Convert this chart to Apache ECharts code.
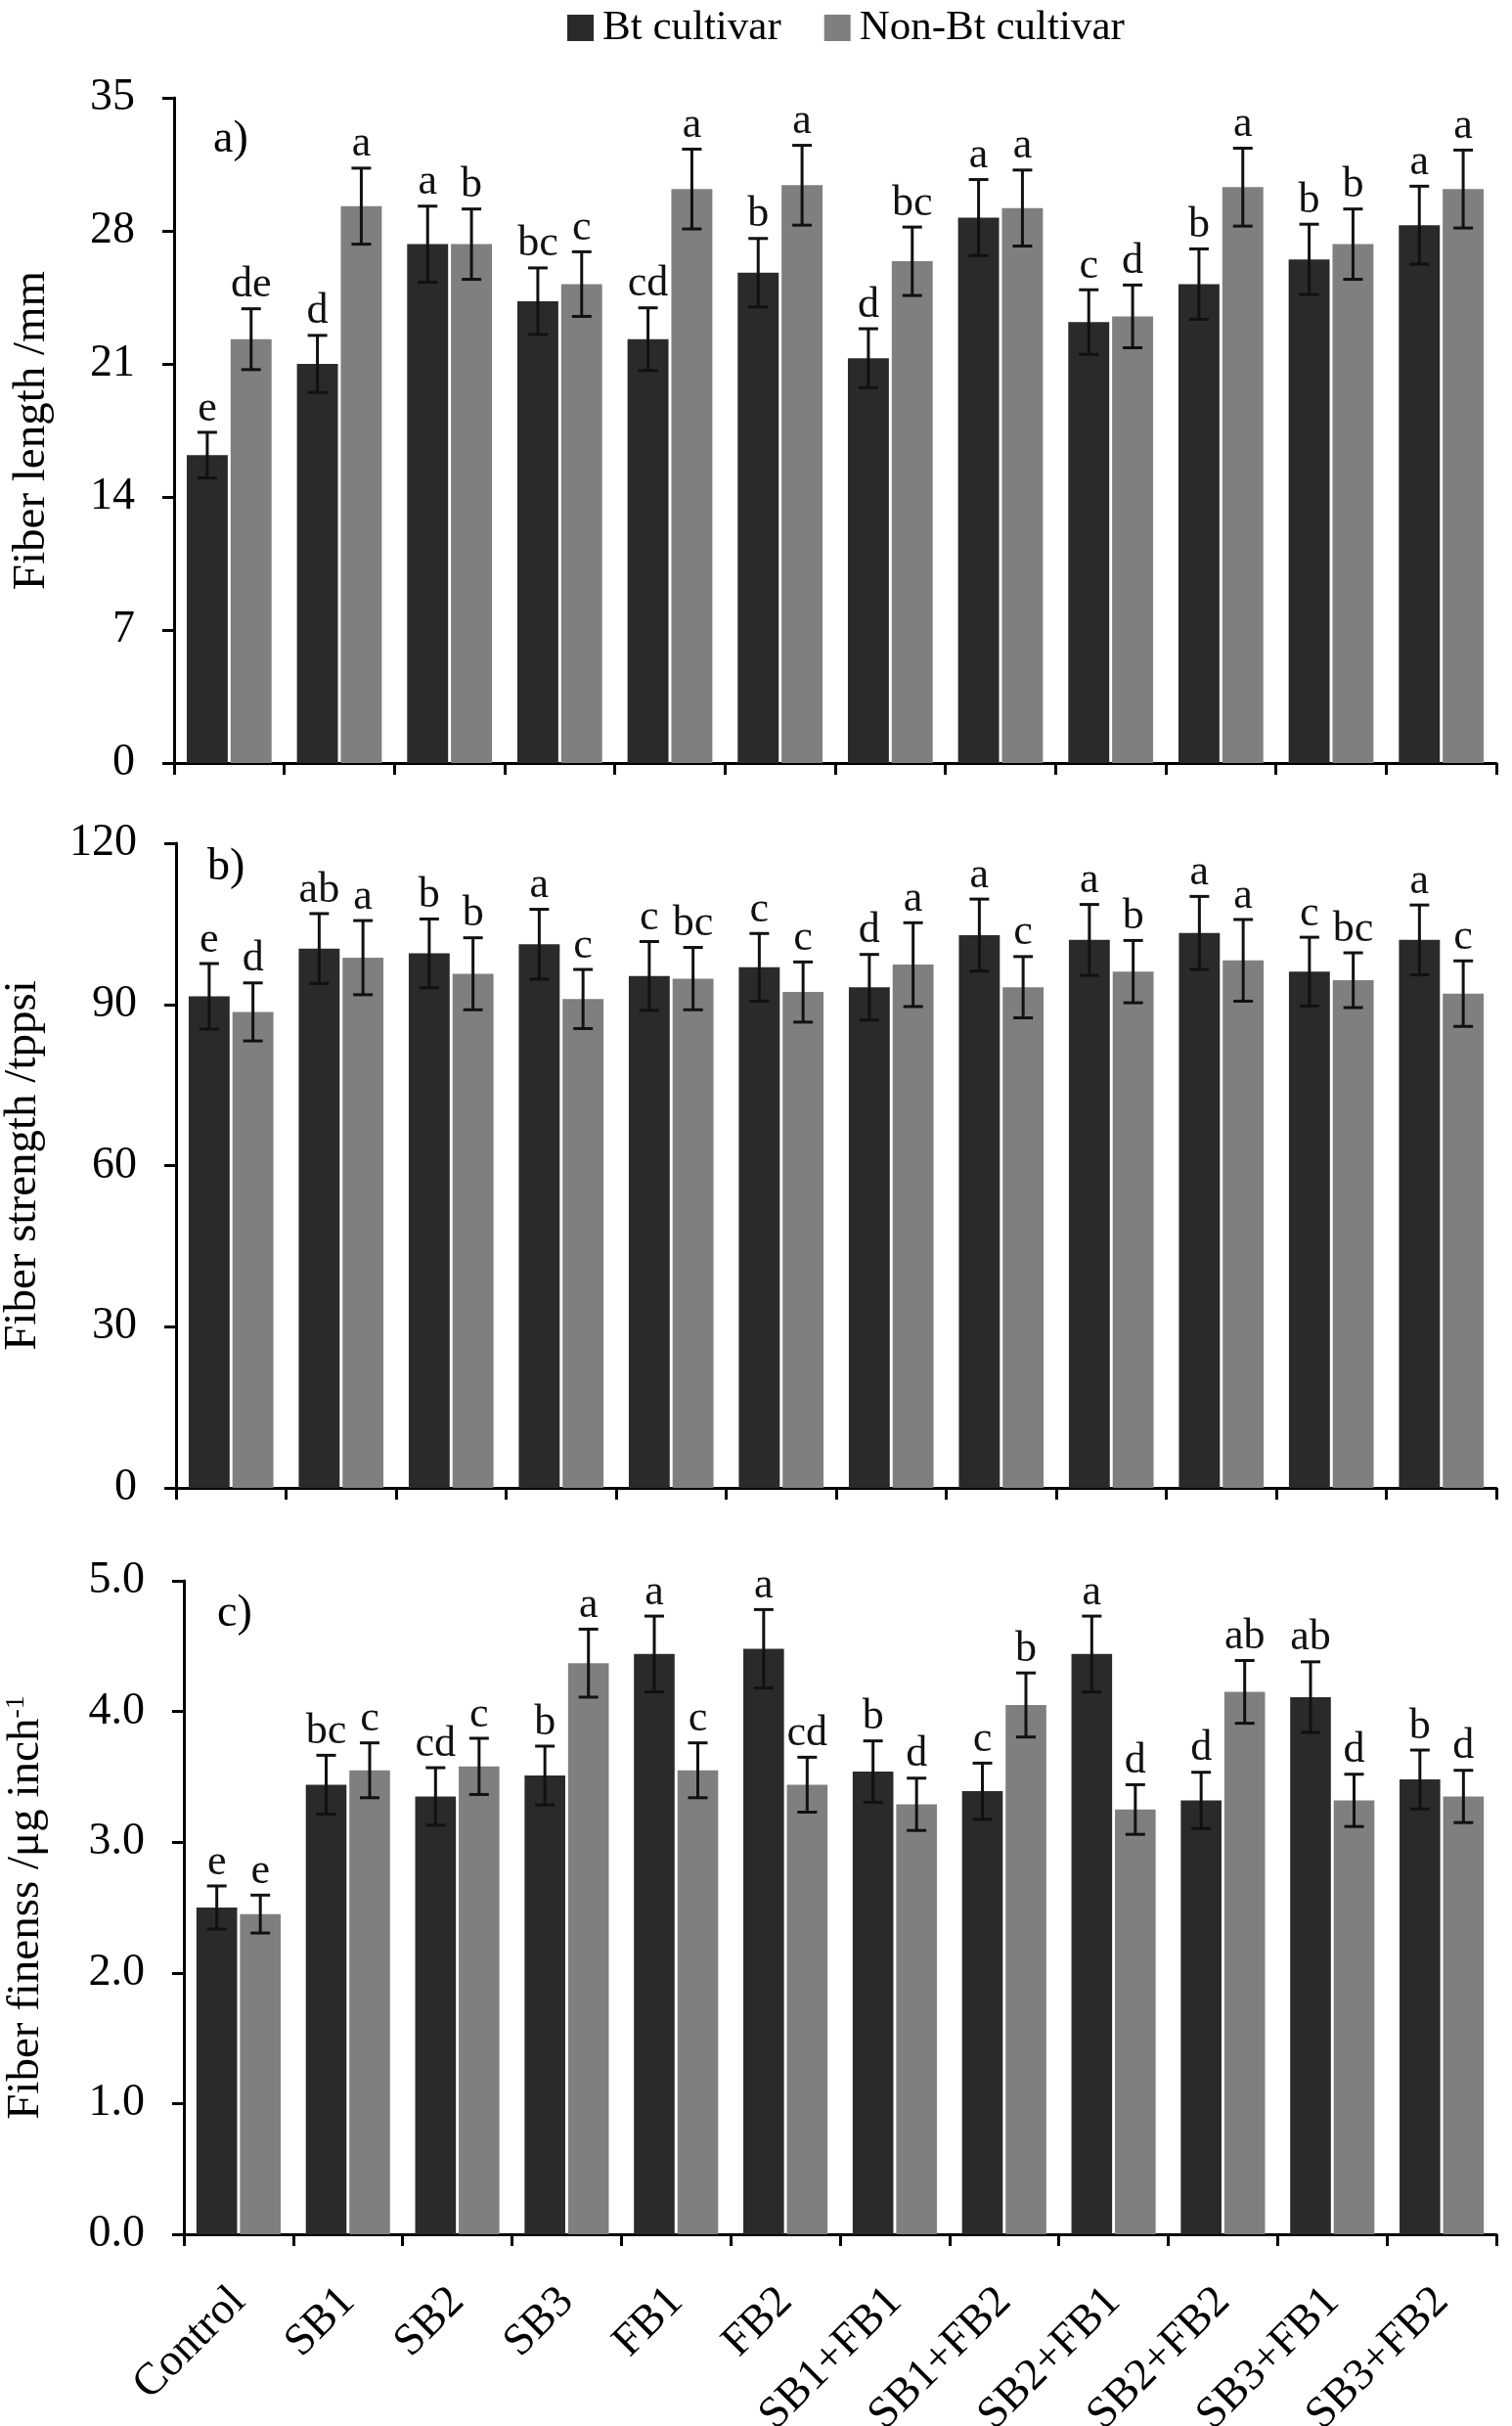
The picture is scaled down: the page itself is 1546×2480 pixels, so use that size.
<!DOCTYPE html>
<html>
<head>
<meta charset="utf-8">
<style>
html,body{margin:0;padding:0;background:#fff;}
#chart{width:1546px;height:2480px;}
</style>
<script src="https://cdn.jsdelivr.net/npm/echarts@6/dist/echarts.min.js"></script>
</head>
<body>
<div id="chart"></div>
<script>
const categories = ['Control','SB1','SB2','SB3','FB1','FB2','SB1+FB1','SB1+FB2','SB2+FB1','SB2+FB2','SB3+FB1','SB3+FB2'];
const seriesNames = ['Bt cultivar','Non-Bt cultivar'];

// a) Fiber length (mm)
const lengthBt      = [16.2, 21.0, 27.3, 24.3, 22.3, 25.8, 21.3, 28.7, 23.2, 25.2, 26.5, 28.3];
const lengthBtErr   = [1.2, 1.5, 2.0, 1.75, 1.65, 1.8, 1.55, 2.0, 1.7, 1.85, 1.85, 2.05];
const lengthNon     = [22.3, 29.3, 27.3, 25.2, 30.2, 30.4, 26.4, 29.2, 23.5, 30.3, 27.3, 30.2];
const lengthNonErr  = [1.6, 2.0, 1.85, 1.7, 2.1, 2.1, 1.8, 2.0, 1.65, 2.05, 1.85, 2.05];
const lengthBtLet   = ['e','d','a','bc','cd','b','d','a','c','b','b','a'];
const lengthNonLet  = ['de','a','b','c','a','a','bc','a','d','a','b','a'];

// b) Fiber strength (tppsi)
const strengthBt     = [91.5, 100.4, 99.5, 101.2, 95.3, 96.9, 93.2, 102.9, 102.0, 103.3, 96.1, 102.0];
const strengthBtErr  = [6.1, 6.5, 6.4, 6.5, 6.4, 6.3, 6.1, 6.7, 6.6, 6.8, 6.4, 6.5];
const strengthNon    = [88.6, 98.7, 95.7, 91.0, 94.8, 92.3, 97.4, 93.2, 96.1, 98.2, 94.5, 92.0];
const strengthNonErr = [5.4, 6.9, 6.7, 5.5, 5.8, 5.6, 7.8, 5.7, 5.8, 7.6, 5.1, 6.1];
const strengthBtLet  = ['e','ab','b','a','c','c','d','a','a','a','c','a'];
const strengthNonLet = ['d','a','b','c','bc','c','a','c','b','a','bc','c'];

// c) Fiber fineness (µg inch-1)
const finenessBt     = [2.50, 3.44, 3.35, 3.51, 4.44, 4.48, 3.54, 3.39, 4.44, 3.32, 4.11, 3.48];
const finenessBtErr  = [0.165, 0.225, 0.22, 0.225, 0.29, 0.30, 0.235, 0.215, 0.29, 0.215, 0.27, 0.225];
const finenessNon    = [2.45, 3.55, 3.58, 4.37, 3.55, 3.44, 3.29, 4.05, 3.25, 4.15, 3.32, 3.35];
const finenessNonErr = [0.145, 0.21, 0.215, 0.26, 0.21, 0.21, 0.20, 0.245, 0.19, 0.24, 0.20, 0.20];
const finenessBtLet  = ['e','bc','cd','b','a','a','b','c','a','d','ab','b'];
const finenessNonLet = ['e','c','c','a','c','cd','d','b','d','ab','d','d'];

const yMax = [35, 120, 5];
const yInterval = [7, 30, 1];
const panelLabels = ['a)','b)','c)'];
const yTitles = ['Fiber length /mm','Fiber strength /tppsi','Fiber finenss /μg inch{sup|-1}'];

const FONT = 'Liberation Serif';
const C_BT = '#2a2a2a', C_NON = '#7f7f7f';
const CAT_GAP = 0.23, BAR_GAP = 0.07;

const panels = [
  {bt: lengthBt, btErr: lengthBtErr, non: lengthNon, nonErr: lengthNonErr, btLet: lengthBtLet, nonLet: lengthNonLet},
  {bt: strengthBt, btErr: strengthBtErr, non: strengthNon, nonErr: strengthNonErr, btLet: strengthBtLet, nonLet: strengthNonLet},
  {bt: finenessBt, btErr: finenessBtErr, non: finenessNon, nonErr: finenessNonErr, btLet: finenessBtLet, nonLet: finenessNonLet}
];

const grids = [
  {left: 178, right: 16, top: 100, height: 680},
  {left: 180, right: 16, top: 862, height: 659},
  {left: 188, right: 16, top: 1616, height: 668}
];
const nameGaps = [122, 133, 138];
const panelLabelPos = [[218, 143], [212, 887], [222, 1650]];

function errSeries(k, vals, errs, lets, side) {
  return {
    type: 'custom', xAxisIndex: k, yAxisIndex: k, z: 10, silent: true,
    encode: {x: 0, y: 1},
    data: vals.map((v, i) => [i, v, errs[i]]),
    renderItem: function (params, api) {
      const i = api.value(0), v = api.value(1), e = api.value(2);
      const band = api.size([1, 0])[0];
      const bw = band * (1 - CAT_GAP) / (2 + BAR_GAP);
      const off = side * (bw + BAR_GAP * bw) / 2;
      const top = api.coord([i, v + e]);
      const bot = api.coord([i, v - e]);
      const x = top[0] + off;
      const ls = {stroke: '#111', lineWidth: 3};
      return {
        type: 'group',
        children: [
          {type: 'line', shape: {x1: x, y1: top[1], x2: x, y2: bot[1]}, style: ls},
          {type: 'line', shape: {x1: x - 10, y1: top[1], x2: x + 10, y2: top[1]}, style: ls},
          {type: 'line', shape: {x1: x - 10, y1: bot[1], x2: x + 10, y2: bot[1]}, style: ls},
          {type: 'text', x: x, y: top[1] - 2,
           style: {text: lets[params.dataIndex], fill: '#111', fontFamily: FONT, fontSize: 44,
                   align: 'center', verticalAlign: 'bottom'}}
        ]
      };
    }
  };
}

const xAxes = [], yAxes = [], series = [];
panels.forEach((p, k) => {
  xAxes.push({
    type: 'category', gridIndex: k, data: categories,
    axisLine: {show: true, lineStyle: {color: '#000', width: 3}},
    axisTick: {show: true, length: 12, interval: 0, lineStyle: {color: '#000', width: 3}},
    axisLabel: k === 2 ? {show: true, interval: 0, rotate: 45, margin: 62, fontFamily: FONT, fontSize: 46, color: '#000'} : {show: false},
    splitLine: {show: false}
  });
  yAxes.push({
    type: 'value', gridIndex: k, min: 0, max: yMax[k], interval: yInterval[k],
    name: yTitles[k], nameLocation: 'middle', nameRotate: 90, nameGap: nameGaps[k],
    nameTextStyle: {fontFamily: FONT, fontSize: 47, color: '#000',
      rich: {sup: {fontFamily: FONT, fontSize: 28, color: '#000', verticalAlign: 'top'}}},
    axisLine: {show: true, lineStyle: {color: '#000', width: 3}},
    axisTick: {show: true, length: 12, lineStyle: {color: '#000', width: 3}},
    axisLabel: {show: true, margin: 40, fontFamily: FONT, fontSize: 46, color: '#000',
      formatter: k === 2 ? (v => v.toFixed(1)) : (v => String(v))},
    splitLine: {show: false}
  });
  series.push({type: 'bar', name: seriesNames[0], xAxisIndex: k, yAxisIndex: k, data: p.bt,
    itemStyle: {color: C_BT}, barGap: (BAR_GAP * 100) + '%', barCategoryGap: (CAT_GAP * 100) + '%'});
  series.push({type: 'bar', name: seriesNames[1], xAxisIndex: k, yAxisIndex: k, data: p.non,
    itemStyle: {color: C_NON}, barGap: (BAR_GAP * 100) + '%', barCategoryGap: (CAT_GAP * 100) + '%'});
  series.push(errSeries(k, p.bt, p.btErr, p.btLet, -1));
  series.push(errSeries(k, p.non, p.nonErr, p.nonLet, 1));
});

const chart = echarts.init(document.getElementById('chart'));
chart.setOption({
  backgroundColor: '#fff',
  animation: false,
  legend: {
    data: seriesNames, left: 575, top: 2, itemWidth: 27, itemHeight: 27, itemGap: 44, icon: 'rect',
    textStyle: {fontFamily: FONT, fontSize: 43, color: '#000', padding: [0, 0, 0, 4]}
  },
  grid: grids.map(g => Object.assign({containLabel: false, outerBoundsMode: 'none'}, g)),
  xAxis: xAxes,
  yAxis: yAxes,
  graphic: panelLabels.map((t, k) => ({
    type: 'text', x: panelLabelPos[k][0], y: panelLabelPos[k][1], silent: true,
    style: {text: t, fill: '#000', fontFamily: FONT, fontSize: 46, verticalAlign: 'middle'}
  })),
  series: series
});
</script>
</body>
</html>
